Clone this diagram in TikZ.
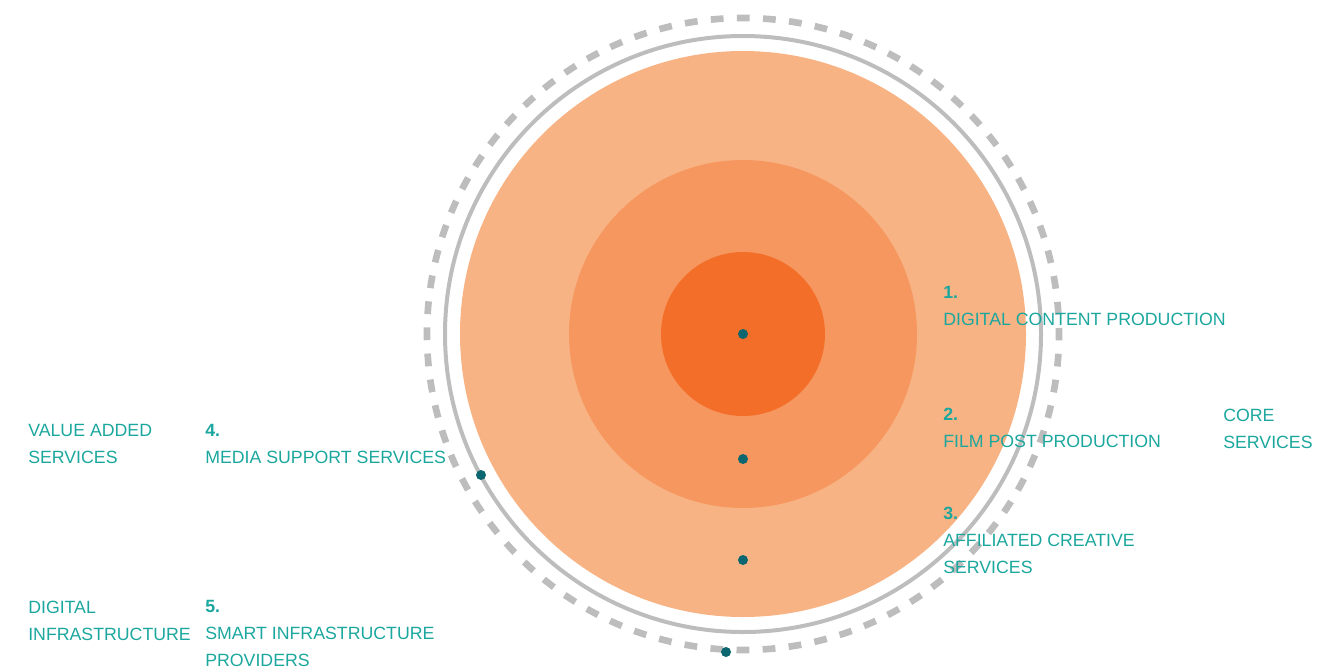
\documentclass[tikz,border=0pt]{standalone}
\usepackage{fontspec}
\setmainfont{Liberation Sans}
\usepackage{xcolor}
\usepackage{tikz}
\usetikzlibrary{positioning}

\definecolor{ringouter}{HTML}{F8B384}
\definecolor{ringmid}{HTML}{F6975F}
\definecolor{ringinner}{HTML}{F36F29}
\definecolor{rimgray}{HTML}{BEBDBE}
\definecolor{labelteal}{HTML}{1BA79E}
\definecolor{dotteal}{HTML}{0B6670}

\begin{document}
\begin{tikzpicture}[x=0.75pt,y=-0.75pt,
      label style/.style={anchor=base west,inner sep=0pt,text=labelteal,
        align=left,font=\fontsize{13.3}{19.9}\selectfont},
      marker/.style={circle,fill=dotteal,inner sep=0pt,minimum size=7.5pt},
      rim/.style={draw=rimgray,line width=3pt},
      dashed rim/.style={draw=rimgray,line width=5pt,
        dash pattern=on 9.6pt off 10pt,dash phase=4.8pt}
      ]
      \useasboundingbox (0,0) rectangle (1331,668);
      \coordinate (c) at (743,334);
      % rings, outermost first
      \draw[dashed rim] (c) circle (316);
      \draw[rim] (c) circle (298);
      \fill[ringouter] (c) circle (283);
      \fill[ringmid] (c) circle (174);
      \fill[ringinner] (c) circle (82);
      % markers
      \node[marker] (m1) at (c) {};
      \node[marker] (m2) at (743,459) {};
      \node[marker] (m3) at (743,560) {};
      \node[marker] (m4) at (481,475) {};
      \node[marker] (m5) at (726,652) {};
      % labels (placed by the baseline of their last line)
      \node[label style] (l1) at (943,325) {{\bfseries 1.}\\DIGITAL CONTENT PRODUCTION};
      \node[label style] (l2) at (943,447) {{\bfseries 2.}\\FILM POST PRODUCTION};
      \node[label style] (l3) at (943,573) {{\bfseries 3.}\\AFFILIATED CREATIVE\\SERVICES};
      \node[label style] (core) at (1223,448) {CORE\\SERVICES};
      \node[label style] (l4) at (205,463) {{\bfseries 4.}\\MEDIA SUPPORT SERVICES};
      \node[label style] (va) at (28,463) {VALUE ADDED\\SERVICES};
      \node[label style] (l5) at (205,666) {{\bfseries 5.}\\SMART INFRASTRUCTURE\\PROVIDERS};
      \node[label style] (di) at (28,640) {DIGITAL\\INFRASTRUCTURE};
    \end{tikzpicture}
\end{document}
